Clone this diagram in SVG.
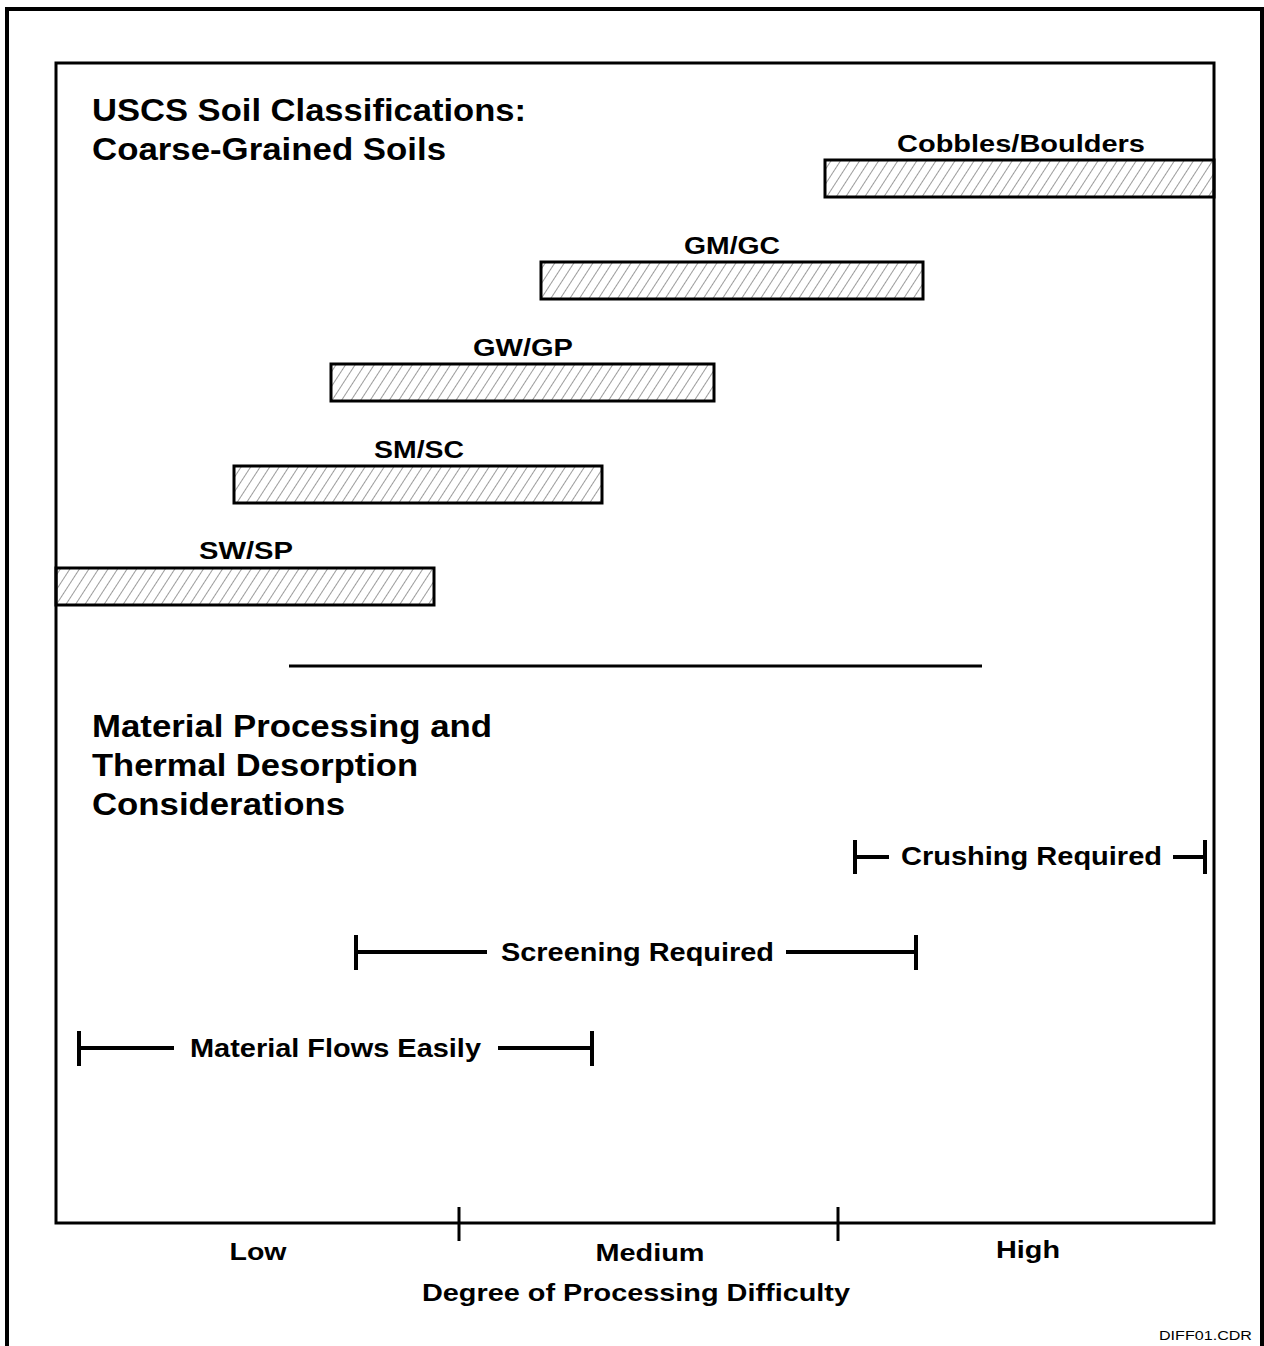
<svg xmlns="http://www.w3.org/2000/svg" width="1264" height="1346" viewBox="0 0 1264 1346">
  <defs>
    <!-- diagonal hatch used to fill the soil-class bars -->
    <pattern id="hatch" patternUnits="userSpaceOnUse" width="8" height="12" patternTransform="rotate(33)">
      <line x1="0" y1="-2" x2="0" y2="14" stroke="#3a3a3a" stroke-width="1"/>
    </pattern>
    <style>
      .frame { fill: none; stroke: #000; }
      .bar { fill: url(#hatch); stroke: #000; stroke-width: 3; }
      .rng { stroke: #000; stroke-width: 4; fill: none; }
      .tick { stroke: #000; stroke-width: 3; }
      text { font-family: "Liberation Sans", Arial, sans-serif; font-weight: bold; fill: #000; }
      .title { font-size: 32px; }
      .lbl { font-size: 23px; text-anchor: middle; }
      .rlbl { font-size: 25px; }
      .ax { font-size: 24px; text-anchor: middle; }
      .tag { font-size: 12px; font-weight: normal; }
    </style>
  </defs>

  <rect width="1264" height="1346" fill="#fff"/>

  <!-- outer page border (runs off the bottom edge) -->
  <path class="frame" stroke-width="4" d="M7,1350 V9 H1262 V1350"/>
  <!-- chart frame -->
  <rect class="frame" stroke-width="3" x="56" y="63" width="1158" height="1160"/>

  <!-- headings -->
  <g id="heading-soils">
    <text class="title" x="92" y="121" textLength="434" lengthAdjust="spacingAndGlyphs">USCS Soil Classifications:</text>
    <text class="title" x="92" y="160" textLength="354" lengthAdjust="spacingAndGlyphs">Coarse-Grained Soils</text>
  </g>

  <!-- soil classification bars -->
  <g id="bar-cobbles">
    <rect class="bar" x="825" y="160" width="389" height="37"/>
    <text class="lbl" x="1021" y="152" textLength="248" lengthAdjust="spacingAndGlyphs">Cobbles/Boulders</text>
  </g>
  <g id="bar-gmgc">
    <rect class="bar" x="541" y="262" width="382" height="37"/>
    <text class="lbl" x="732" y="254" textLength="96" lengthAdjust="spacingAndGlyphs">GM/GC</text>
  </g>
  <g id="bar-gwgp">
    <rect class="bar" x="331" y="364" width="383" height="37"/>
    <text class="lbl" x="523" y="356" textLength="100" lengthAdjust="spacingAndGlyphs">GW/GP</text>
  </g>
  <g id="bar-smsc">
    <rect class="bar" x="234" y="466" width="368" height="37"/>
    <text class="lbl" x="419" y="458" textLength="90" lengthAdjust="spacingAndGlyphs">SM/SC</text>
  </g>
  <g id="bar-swsp">
    <rect class="bar" x="56" y="568" width="378" height="37"/>
    <text class="lbl" x="246" y="559" textLength="94" lengthAdjust="spacingAndGlyphs">SW/SP</text>
  </g>

  <!-- divider -->
  <line x1="289" y1="666" x2="982" y2="666" stroke="#000" stroke-width="3"/>

  <g id="heading-processing">
    <text class="title" x="92" y="737" textLength="400" lengthAdjust="spacingAndGlyphs">Material Processing and</text>
    <text class="title" x="92" y="776" textLength="326" lengthAdjust="spacingAndGlyphs">Thermal Desorption</text>
    <text class="title" x="92" y="815" textLength="253" lengthAdjust="spacingAndGlyphs">Considerations</text>
  </g>

  <!-- processing ranges -->
  <g id="connectors">
    <g id="range-crushing">
      <path class="rng" d="M855,840 V874 M855,857 H889 M1173,857 H1205 M1205,840 V874"/>
      <text class="rlbl" x="901" y="865" textLength="261" lengthAdjust="spacingAndGlyphs">Crushing Required</text>
    </g>
    <g id="range-screening">
      <path class="rng" d="M356,935 V970 M356,952 H487 M786,952 H916 M916,935 V970"/>
      <text class="rlbl" x="501" y="961" textLength="273" lengthAdjust="spacingAndGlyphs">Screening Required</text>
    </g>
    <g id="range-flows">
      <path class="rng" d="M79,1031 V1066 M79,1048 H174 M498,1048 H592 M592,1031 V1066"/>
      <text class="rlbl" x="190" y="1057" textLength="291" lengthAdjust="spacingAndGlyphs">Material Flows Easily</text>
    </g>
  </g>

  <!-- difficulty axis -->
  <g id="axis">
    <line class="tick" x1="459" y1="1207" x2="459" y2="1241"/>
    <line class="tick" x1="838" y1="1207" x2="838" y2="1241"/>
    <text class="ax" x="258" y="1260" textLength="57" lengthAdjust="spacingAndGlyphs">Low</text>
    <text class="ax" x="650" y="1261" textLength="109" lengthAdjust="spacingAndGlyphs">Medium</text>
    <text class="ax" x="1028" y="1258" textLength="64" lengthAdjust="spacingAndGlyphs">High</text>
    <text class="ax" x="636" y="1301" textLength="428" lengthAdjust="spacingAndGlyphs">Degree of Processing Difficulty</text>
  </g>

  <text class="tag" x="1159" y="1340" textLength="93" lengthAdjust="spacingAndGlyphs">DIFF01.CDR</text>
</svg>
